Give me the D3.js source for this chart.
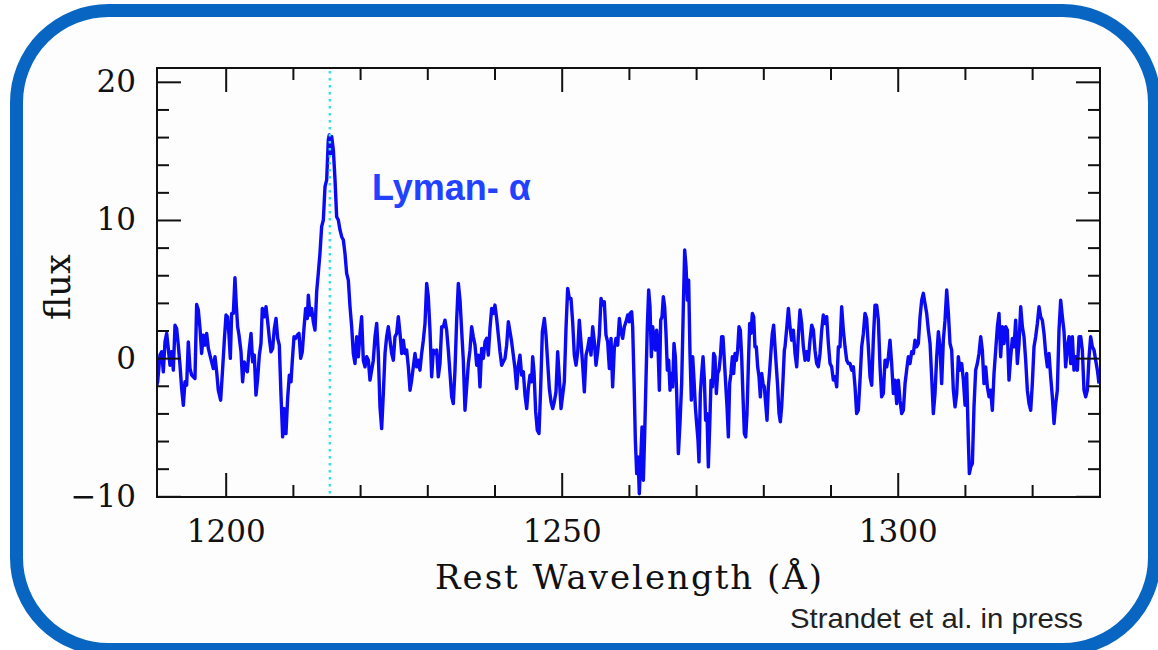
<!DOCTYPE html>
<html>
<head>
<meta charset="utf-8">
<script src="https://cdn.jsdelivr.net/npm/d3@7"></script>
<style>
  body { margin: 0; background: #fff; }
  svg { display: block; }
</style>
</head>
<body>
<div id="chart"></div>
<script>
// Spectrum (rest wavelength in Angstrom, flux)
const wavelength = [
  1189.48,1189.88,1190.22,1190.47,1190.72,1190.97,1191.22,1191.46,1191.71,1191.96,1192.21,1192.46,1192.70,1192.95,1193.20,1193.45,1193.70,1193.94,1194.19,1194.44,
  1194.69,1194.94,1195.18,1195.43,1195.68,1195.93,1196.18,1196.42,1196.67,1196.92,1197.17,1197.42,1197.66,1197.91,1198.16,1198.41,1198.66,1198.90,1199.25,1199.55,
  1199.80,1200.05,1200.29,1200.49,1200.69,1200.89,1201.14,1201.38,1201.58,1201.78,1201.98,1202.28,1202.52,1202.77,1202.97,1203.22,1203.47,1203.77,1204.01,1204.26,
  1204.51,1204.76,1205.01,1205.25,1205.45,1205.75,1206.00,1206.25,1206.50,1206.74,1206.99,1207.24,1207.49,1207.74,1207.98,1208.23,1208.48,1208.73,1208.97,1209.22,
  1209.47,1209.72,1209.92,1210.17,1210.41,1210.66,1210.91,1211.16,1211.40,1211.65,1211.90,1212.15,1212.30,1212.55,1212.79,1213.04,1213.29,1213.54,1213.78,
  1214.03,1214.28,1214.53,1214.78,1215.03,1215.27,1215.42,1215.62,1215.77,1216.02,1216.27,1216.51,1216.76,1217.01,1217.26,1217.51,1217.75,1218.00,1218.25,1218.50,
  1218.75,1218.99,1219.24,1219.49,1219.74,1219.99,1220.23,1220.48,1220.73,1220.98,1221.23,1221.47,1221.72,1221.97,1222.22,1222.47,1222.71,1222.96,1223.21,1223.46,
  1223.71,1223.95,1224.20,1224.45,1224.70,1224.95,1225.19,1225.44,1225.69,1225.94,1226.19,1226.43,1226.68,1226.93,1227.18,1227.43,1227.67,1227.92,1228.17,1228.42,
  1228.67,1228.91,1229.16,1229.41,1229.66,1229.91,1230.15,1230.40,1230.65,1230.90,1231.15,1231.39,1231.64,1231.89,1232.14,1232.39,1232.63,1232.88,1233.13,1233.38,
  1233.63,1233.87,1234.12,1234.37,1234.62,1234.87,1235.11,1235.36,1235.61,1235.86,1236.11,1236.35,1236.60,1236.85,
  1237.10,1237.35,1237.59,1237.84,1238.09,1238.34,1238.59,1238.83,1239.08,1239.33,1239.58,1239.83,1240.07,1240.32,1240.57,1240.82,1241.07,1241.31,1241.56,1241.81,
  1242.06,1242.31,1242.55,1242.80,1243.05,1243.30,1243.55,1243.79,1244.04,1244.29,1244.54,1244.79,1245.03,1245.28,1245.53,1245.68,1245.88,1246.13,1246.37,1246.62,
  1246.87,1247.12,1247.42,1247.66,1247.91,1248.16,1248.41,1248.66,1248.90,1249.15,1249.40,1249.65,1249.90,1250.14,1250.39,1250.64,1250.89,1251.14,1251.38,1251.63,
  1251.88,1252.13,1252.38,1252.62,1252.87,1253.12,1253.37,1253.62,1253.86,1254.11,1254.36,1254.61,1254.86,1255.10,1255.35,1255.60,1255.85,1256.10,1256.34,1256.59,
  1256.84,1257.09,1257.34,1257.58,1257.83,1258.08,1258.33,1258.58,1258.82,1259.07,1259.32,1259.57,1259.82,1260.06,
  1260.16,1260.41,1260.56,1260.76,1260.96,1261.16,1261.36,1261.55,1261.75,1261.95,1262.15,1262.35,1262.54,1262.74,1262.94,1263.14,1263.34,1263.54,1263.74,1263.93,
  1264.13,1264.33,1264.53,1264.73,1264.93,1265.12,1265.32,1265.52,1265.72,1265.92,1266.12,1266.31,1266.51,1266.71,1266.91,1267.11,1267.36,1267.60,1267.85,1268.10,
  1268.30,1268.50,1268.70,1268.89,1269.09,1269.29,1269.49,1269.69,1269.89,1270.08,1270.28,1270.43,1270.63,1270.83,1271.03,1271.23,1271.42,1271.62,1271.82,1272.02,
  1272.22,1272.42,1272.61,1272.81,1273.01,1273.21,1273.41,1273.61,1273.80,1274.00,1274.20,1274.40,1274.60,1274.80,1274.99,1275.19,1275.39,1275.59,1275.79,1275.99,
  1276.18,1276.38,1276.58,1276.78,1276.98,1277.18,1277.38,1277.57,1277.77,1277.97,1278.17,1278.37,1278.57,1278.76,1278.96,1279.16,1279.36,1279.56,1279.76,1279.96,
  1280.15,1280.35,1280.55,1280.75,1280.95,1281.15,1281.34,1281.54,1281.74,1281.94,1282.14,1282.34,1282.53,1282.73,1282.93,1283.13,
  1283.23,1283.48,1283.73,1283.97,1284.22,1284.47,1284.72,1284.97,1285.21,1285.46,1285.71,1285.96,1286.21,1286.45,1286.70,1286.95,1287.20,1287.45,1287.69,1287.94,
  1288.19,1288.44,1288.69,1288.93,1289.18,1289.43,1289.68,1289.93,1290.17,1290.42,1290.67,1290.92,1291.17,1291.41,1291.66,1291.91,1292.16,1292.41,1292.65,1292.90,
  1293.15,1293.40,1293.65,1293.89,1294.14,1294.39,1294.64,1294.89,1295.13,1295.38,1295.63,1295.88,1296.13,1296.37,1296.62,1296.87,1297.12,1297.37,1297.61,1297.86,
  1298.11,1298.36,1298.61,1298.85,1299.10,1299.35,1299.60,1299.85,1300.09,1300.34,1300.59,1300.84,1301.09,1301.33,1301.58,1301.83,1302.08,1302.33,1302.57,1302.82,
  1303.07,1303.32,1303.57,1303.81,1304.06,1304.31,1304.56,1304.81,1305.05,1305.30,1305.55,1305.80,1306.05,
  1306.29,1306.54,1306.79,1307.04,1307.29,1307.54,1307.78,1308.03,1308.28,1308.53,1308.78,1309.02,1309.27,1309.52,1309.77,1310.02,1310.26,1310.51,1310.66,1310.86,
  1311.11,1311.35,1311.60,1311.85,1312.10,1312.35,1312.59,1312.84,1313.09,1313.34,1313.59,1313.83,1314.08,1314.33,1314.58,1314.83,1315.07,1315.32,1315.57,1315.82,
  1316.07,1316.31,1316.56,1316.81,1317.06,1317.31,1317.55,1317.80,1318.05,1318.30,1318.55,1318.79,1319.04,1319.29,1319.54,1319.79,1320.03,1320.28,1320.53,1320.78,
  1321.03,1321.27,1321.52,1321.77,1322.02,1322.27,1322.51,1322.76,1323.01,1323.26,1323.51,1323.75,1324.00,1324.25,1324.50,1324.75,1324.99,1325.24,1325.49,1325.74,
  1325.99,1326.23,1326.48,1326.73,1326.98,1327.23,1327.47,1327.72,1327.97,1328.22,1328.47,1328.71,1328.96,1329.21,1329.46,1329.71,1329.95
];

const flux = [
  -2.44,-1.71,0.22,0.46,-0.99,1.18,1.79,0.70,-0.51,0.46,-0.87,2.39,2.15,0.94,-0.51,-2.20,-3.41,-1.71,-1.96,1.18,
  -0.75,-1.23,-1.35,-1.47,3.89,3.48,2.15,0.34,1.67,0.94,1.79,0.70,0.22,-0.27,-0.75,0.10,-0.99,-2.32,-3.04,-0.75,
  1.30,3.12,2.99,1.67,-0.02,3.24,3.24,5.82,3.84,2.27,1.67,0.46,-1.71,-0.27,-0.75,-0.99,0.46,1.79,-0.27,0.22,
  -2.68,-1.47,0.22,1.06,3.60,2.99,3.72,2.63,1.43,0.46,0.70,2.15,2.87,1.43,0.94,-2.68,-5.70,-3.65,-5.46,-2.92,
  -1.23,-1.71,-0.14,1.55,1.43,1.67,1.79,-0.02,0.46,2.15,3.60,2.87,4.56,3.12,3.60,2.63,2.03,4.81,6.14,
  7.58,9.52,10.0,12.41,12.9,15.8,16.16,14.83,16.04,15.07,12.9,10.24,10.0,9.28,8.79,8.55,7.58,6.13,5.65,3.72,
  2.27,0.34,-0.39,1.55,0.10,1.79,3.0,-0.15,-0.63,0.10,-0.15,-1.59,-0.87,-0.15,1.55,2.51,0.34,-3.53,-5.10,-2.56,
  0.34,1.55,2.27,1.30,0.34,-0.15,1.55,1.79,3.0,1.79,0.34,1.30,0.34,0.58,-0.63,-2.32,-1.59,-0.63,0.34,-0.63,
  -0.15,-0.87,0.34,1.30,2.51,5.41,4.44,2.03,-1.35,0.58,0.34,0.58,-1.35,-0.39,2.27,2.27,2.75,2.03,0.58,-1.11,
  -2.80,-3.29,-0.87,2.75,5.41,4.20,2.03,-0.15,-3.77,-2.08,-0.39,0.58,2.27,1.55,
  0.94,-0.51,0.22,-2.08,0.70,-0.02,1.18,1.43,0.22,2.15,3.60,3.24,3.84,2.87,1.67,0.46,-0.51,-0.27,-0.02,0.94,
  2.63,1.91,1.18,0.22,-0.75,-2.20,-0.51,0.22,-1.23,-0.99,-2.68,-3.65,-2.20,-1.23,-1.71,0.10,-0.99,-3.89,-5.22,-5.46,
  -2.20,1.91,2.87,1.67,-0.27,-2.20,-3.16,-3.65,-3.16,-2.44,0.46,-1.47,-3.65,-2.68,-1.71,2.15,5.05,4.32,4.32,2.63,
  0.22,-0.51,0.46,2.75,1.18,-0.51,-2.44,0.22,0.70,1.43,0.22,2.27,1.18,-0.51,0.46,1.67,4.32,3.84,4.08,1.67,
  1.18,-0.75,1.43,-2.08,0.70,1.43,0.94,2.87,1.91,1.43,2.27,2.63,3.12,2.63,
  3.24,3.36,2.27,-1.59,-5.94,-8.36,-7.15,-9.81,-7.39,-4.98,-8.84,-5.46,-1.59,2.27,4.93,3.72,0.10,2.27,1.30,0.58,
  2.03,0.82,-2.32,2.75,2.99,4.44,3.72,1.79,-0.87,-0.15,-2.32,-1.11,-2.08,1.06,0.10,-2.56,-6.91,-4.73,-1.84,3.72,
  7.83,6.62,4.20,5.65,0.34,-3.04,0.10,-1.59,-3.53,-4.73,-5.94,-7.51,-2.56,-1.11,0.10,-1.59,-4.49,-4.01,-7.87,-4.98,
  -1.59,-2.08,0.34,0.10,-2.56,-1.11,-0.87,0.10,1.55,1.55,-0.15,-1.84,-3.53,-5.70,-1.84,-1.11,0.10,-1.11,0.34,-0.15,
  0.58,2.27,2.03,0.10,-2.80,-5.46,-5.70,-4.01,-0.63,2.51,1.79,3.24,2.99,0.82,0.82,-0.63,-1.35,-2.80,-1.11,-1.84,
  -2.08,-3.29,-4.49,-2.08,-0.87,0.58,1.79,2.39,0.82,-0.63,-2.08,-4.01,-4.61,-3.53,-1.59,0.58,
  0.82,2.15,3.60,2.27,1.30,2.03,0.34,-0.63,1.55,3.48,2.51,0.82,-0.15,0.46,-0.15,1.30,2.39,2.03,0.58,-0.39,
  -0.63,0.34,2.03,3.12,2.51,3.0,1.06,-0.39,-0.63,-1.59,-1.35,-2.08,0.82,0.82,3.72,2.03,0.82,-0.15,-0.39,-0.39,
  -0.87,-0.63,-2.08,-4.01,-3.77,-1.59,0.82,1.79,3.24,2.87,0.82,-1.35,-1.96,1.30,3.84,3.84,2.75,-0.63,-2.80,-2.56,
  -0.15,-0.63,0.10,1.30,-0.39,-2.56,-1.59,-3.29,-1.59,-3.04,-4.01,-3.77,-1.84,-0.87,0.10,-0.39,0.46,0.34,1.30,0.82,
  1.06,2.99,4.20,4.69,3.96,3.24,2.03,1.06,-1.35,-4.01,-2.56,0.10,1.91,
  0.82,-1.84,1.30,2.75,4.93,3.24,1.06,0.58,-2.32,-3.53,-2.56,0.10,-0.87,-0.39,-1.59,-3.41,-1.11,-5.94,-8.36,-7.87,
  -7.63,-3.53,-0.87,-0.39,0.34,1.55,0.58,-1.84,-0.63,-2.08,-2.80,-2.32,-3.77,-1.11,0.58,2.27,3.24,0.10,2.27,1.06,
  2.27,2.03,-1.59,0.10,1.43,0.82,2.75,-0.39,1.06,3.72,2.27,1.55,-0.15,-2.32,-3.29,-3.77,-1.84,0.82,1.55,2.51,
  3.72,2.99,2.75,1.79,0.34,-0.63,0.34,-1.35,-2.80,-4.73,-3.29,-2.32,2.03,4.20,2.99,1.91,-0.63,0.82,1.55,-0.39,
  1.55,-0.87,0.10,-0.87,1.55,1.55,0.58,-2.32,-2.80,-2.32,0.10,1.55,0.82,0.58,-0.15,-0.87,-1.84
];

const xMajorTicks = [1200, 1250, 1300];
const xMinorTicks = [1210, 1220, 1230, 1240, 1260, 1270, 1280, 1290, 1310, 1320];
const yMajorTicks = [-10, 0, 10, 20];
const yMinorTicks = [-8, -6, -4, -2, 2, 4, 6, 8, 12, 14, 16, 18];
const lymanAlpha = 1215.5;

const width = 1158, height = 650;
const plot = { left: 157, right: 1100, top: 68, bottom: 497 };

const svg = d3.select('#chart')
  .append('svg')
  .attr('width', width)
  .attr('height', height);

// Rounded blue frame round the slide
svg.append('rect')
  .attr('x', 16.5).attr('y', 10.5)
  .attr('width', 1138).attr('height', 639)
  .attr('rx', 92).attr('ry', 92)
  .attr('fill', '#fdfdfd')
  .attr('stroke', '#0866c2')
  .attr('stroke-width', 13);

// Scales
const x = d3.scaleLinear().domain([1189.78, 1330.1]).range([plot.left, plot.right]);
const y = d3.scaleLinear().domain([-10.05, 21]).range([plot.bottom, plot.top]);

svg.append('clipPath').attr('id', 'clip')
  .append('rect')
  .attr('x', plot.left).attr('y', plot.top)
  .attr('width', plot.right - plot.left).attr('height', plot.bottom - plot.top);

// Spectrum
const points = wavelength.map((w, i) => [w, flux[i]]);
svg.append('path')
  .datum(points)
  .attr('clip-path', 'url(#clip)')
  .attr('fill', 'none')
  .attr('stroke', '#0a0af5')
  .attr('stroke-width', 3.4)
  .attr('stroke-linejoin', 'round')
  .attr('d', d3.line().x(d => x(d[0])).y(d => y(d[1])));

// Lyman-alpha marker
svg.append('line')
  .attr('x1', x(lymanAlpha)).attr('x2', x(lymanAlpha))
  .attr('y1', plot.top + 3).attr('y2', plot.bottom)
  .attr('stroke', '#3adede')
  .attr('stroke-width', 2.5)
  .attr('stroke-dasharray', '2.5,4.5');

// Ticks on all four sides, pointing inward
const tickStyle = g => {
  g.select('.domain').remove();
  g.selectAll('line').attr('stroke', '#111').attr('stroke-width', 2);
};
const serif = '"DejaVu Serif", serif';

const addTicks = (axisFn, ticks, size, translate, withLabels, pad) => {
  const axis = axisFn(axisFn === d3.axisBottom || axisFn === d3.axisTop ? x : y)
    .tickValues(ticks)
    .tickSizeInner(-size)
    .tickSizeOuter(0)
    .tickPadding(pad || 0)
    .tickFormat(withLabels ? d3.format('d') : '');
  const g = svg.append('g').attr('transform', translate).call(axis).call(tickStyle);
  g.selectAll('text')
    .attr('fill', '#111')
    .style('font-family', serif)
    .style('font-size', '31px');
  return g;
};

addTicks(d3.axisBottom, xMajorTicks, 24, `translate(0,${plot.bottom})`, true, 23);
addTicks(d3.axisBottom, xMinorTicks, 12, `translate(0,${plot.bottom})`, false);
addTicks(d3.axisTop, xMajorTicks, 24, `translate(0,${plot.top})`, false);
addTicks(d3.axisTop, xMinorTicks, 12, `translate(0,${plot.top})`, false);
addTicks(d3.axisLeft, yMajorTicks, 24, `translate(${plot.left},0)`, true, 21);
addTicks(d3.axisLeft, yMinorTicks, 12, `translate(${plot.left},0)`, false);
addTicks(d3.axisRight, yMajorTicks, 24, `translate(${plot.right},0)`, false);
addTicks(d3.axisRight, yMinorTicks, 12, `translate(${plot.right},0)`, false);

// Plot frame
svg.append('rect')
  .attr('x', plot.left).attr('y', plot.top)
  .attr('width', plot.right - plot.left).attr('height', plot.bottom - plot.top)
  .attr('fill', 'none')
  .attr('stroke', '#111')
  .attr('stroke-width', 2);

// Axis titles
svg.append('text')
  .attr('x', 435).attr('y', 589)
  .attr('textLength', 387)
  .attr('lengthAdjust', 'spacing')
  .style('font-family', serif)
  .style('font-size', '34px')
  .attr('fill', '#111')
  .text('Rest Wavelength (Å)');

svg.append('text')
  .attr('transform', 'translate(70,320) rotate(-90)')
  .style('font-family', serif)
  .style('font-size', '35px')
  .attr('fill', '#111')
  .text('flux');

// Line label
svg.append('text')
  .attr('x', 372).attr('y', 200)
  .style('font-family', '"Liberation Sans", Arial, sans-serif')
  .style('font-weight', 'bold')
  .style('font-size', '36px')
  .attr('fill', '#2342ff')
  .text('Lyman- α');

// Credit
svg.append('text')
  .attr('x', 790).attr('y', 628)
  .attr('textLength', 293)
  .attr('lengthAdjust', 'spacingAndGlyphs')
  .style('font-family', '"Liberation Sans", Arial, sans-serif')
  .style('font-size', '28px')
  .attr('fill', '#222')
  .text('Strandet et al. in press');
</script>
</body>
</html>
